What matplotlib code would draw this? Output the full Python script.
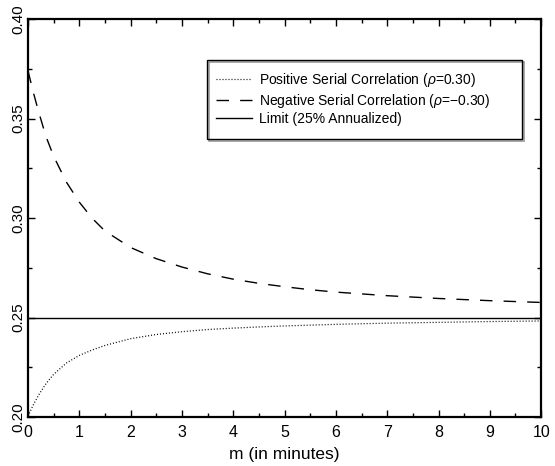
import matplotlib
matplotlib.use('Agg')
import matplotlib.pyplot as plt
from matplotlib.patches import Rectangle
from matplotlib.ticker import MultipleLocator, FormatStrFormatter

plt.rcParams['font.family'] = ['Liberation Sans', 'DejaVu Sans']
plt.rcParams['mathtext.fontset'] = 'custom'
plt.rcParams['mathtext.it'] = 'Liberation Sans:italic'
plt.rcParams['mathtext.rm'] = 'Liberation Sans'

# values
m = [0, 0.1, 0.2, 0.35, 0.5, 0.75, 1.0, 1.25, 1.5, 2.0, 2.5, 3.0, 3.5,
     4.0, 4.5, 5.0, 5.5, 6.0, 7.0, 8.0, 9.0, 10.0]
neg_corr = [0.374, 0.3635, 0.3540, 0.3410, 0.3310, 0.3180, 0.3080, 0.2999,
            0.2935, 0.2852, 0.2796, 0.2754, 0.2720, 0.2693, 0.2672, 0.2655,
            0.2640, 0.2628, 0.2610, 0.2596, 0.2585, 0.2576]
pos_corr = [0.2005, 0.2060, 0.2108, 0.2168, 0.2215, 0.2272, 0.2310, 0.2337,
            0.2360, 0.2394, 0.2415, 0.2429, 0.2440, 0.2447, 0.2453, 0.2458,
            0.2462, 0.2466, 0.2472, 0.2476, 0.2480, 0.2483]
limit = 0.25

labels = ['Positive Serial Correlation ($\\rho$=0.30)',
          'Negative Serial Correlation ($\\rho$=\u22120.30)',
          'Limit (25% Annualized)']

fig = plt.figure(figsize=(5.55, 4.66), dpi=100)
ax = fig.add_axes([0.0505, 0.105, 0.9245, 0.854])

ax.plot(m, pos_corr, color='k', lw=0.9, linestyle=(0, (0.8, 1.6)), label=labels[0])
ax.plot(m, neg_corr, color='k', lw=1.0, linestyle=(0, (9, 8)), label=labels[1])
ax.axhline(limit, color='k', lw=1.0, label=labels[2])

ax.set_xlim(0, 10)
ax.set_ylim(0.20, 0.40)
ax.xaxis.set_major_locator(MultipleLocator(1))
ax.xaxis.set_minor_locator(MultipleLocator(0.5))
ax.yaxis.set_major_locator(MultipleLocator(0.05))
ax.yaxis.set_minor_locator(MultipleLocator(0.025))
ax.yaxis.set_major_formatter(FormatStrFormatter('%.2f'))
ax.tick_params(which='both', direction='in', top=True, right=True)
ax.tick_params(which='major', length=5, width=1)
ax.tick_params(which='minor', length=3, width=1)
ax.tick_params(axis='x', pad=6, labelsize=11.5)
ax.tick_params(axis='y', labelrotation=90, pad=2, labelsize=11)
for sp in ax.spines.values():
    sp.set_linewidth(1.6)

ax.set_xlabel('m (in minutes)', fontsize=12.5, labelpad=5)

leg = ax.legend(loc='upper left', bbox_to_anchor=(206 / 555, 1 - 61 / 466),
                bbox_transform=fig.transFigure, frameon=False, fontsize=10,
                handlelength=2.6, handletextpad=0.5, labelspacing=0.2,
                borderpad=0.2)

# legend frame with shadow
fig.patches.append(Rectangle((209 / 555, 1 - 141 / 466), 315 / 555, 79 / 466,
                             transform=fig.transFigure, fill=False,
                             edgecolor='#999999', lw=1.2))
fig.patches.append(Rectangle((207 / 555, 1 - 139 / 466), 315 / 555, 79 / 466,
                             transform=fig.transFigure, facecolor='none',
                             edgecolor='k', lw=1.0))

fig.canvas.draw()
for lab in ax.get_yticklabels():
    lab.set_va('center')
# the "0" label sits just right of the corner, clear of "0.20"
ax.get_xticklabels()[0].set_ha('left')

fig.savefig('out.png', dpi=100)
